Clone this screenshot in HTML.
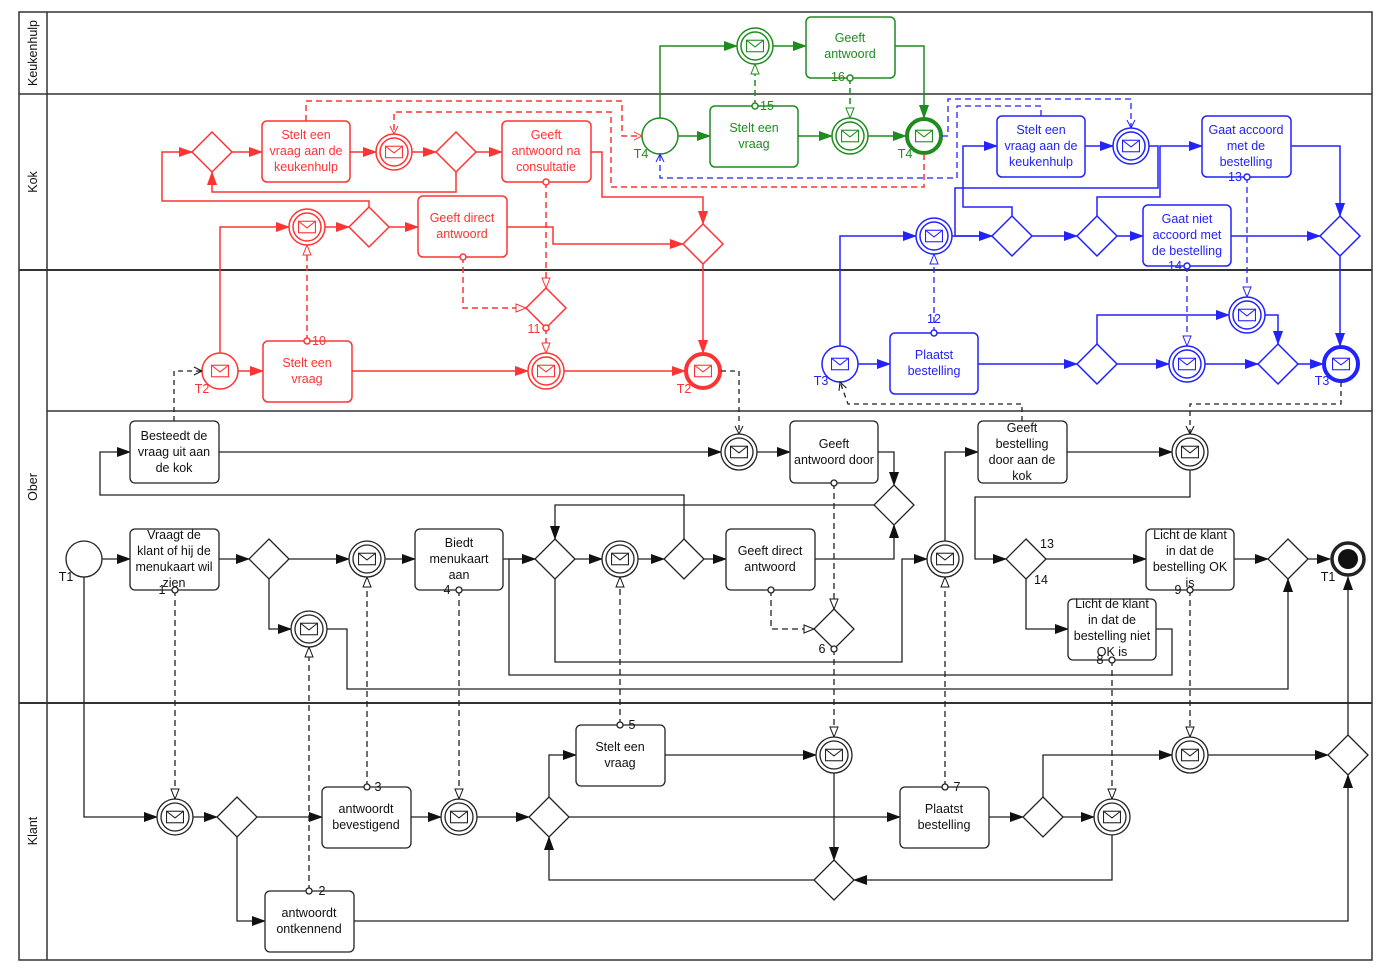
<!DOCTYPE html>
<html><head><meta charset="utf-8"><style>
html,body{margin:0;padding:0;background:#fff}
svg{display:block}
text{font-family:"Liberation Sans",sans-serif;font-size:12.5px}
</style></head><body>
<svg width="1387" height="970" viewBox="0 0 1387 970" xmlns="http://www.w3.org/2000/svg">
<defs>
<marker id="fk" markerWidth="14" markerHeight="10" refX="13" refY="5" orient="auto" markerUnits="userSpaceOnUse"><path d="M0,0 L14,5 L0,10z" fill="#111"/></marker>
<marker id="fr" markerWidth="14" markerHeight="10" refX="13" refY="5" orient="auto" markerUnits="userSpaceOnUse"><path d="M0,0 L14,5 L0,10z" fill="#f33"/></marker>
<marker id="fg" markerWidth="14" markerHeight="10" refX="13" refY="5" orient="auto" markerUnits="userSpaceOnUse"><path d="M0,0 L14,5 L0,10z" fill="#1e8c1e"/></marker>
<marker id="fu" markerWidth="14" markerHeight="10" refX="13" refY="5" orient="auto" markerUnits="userSpaceOnUse"><path d="M0,0 L14,5 L0,10z" fill="#22f"/></marker>
<marker id="hk" markerWidth="12" markerHeight="10" refX="11" refY="5" orient="auto" markerUnits="userSpaceOnUse"><path d="M1,1 L11,5 L1,9z" fill="#fff" stroke="#111"/></marker>
<marker id="hr" markerWidth="12" markerHeight="10" refX="11" refY="5" orient="auto" markerUnits="userSpaceOnUse"><path d="M1,1 L11,5 L1,9z" fill="#fff" stroke="#f33"/></marker>
<marker id="hg" markerWidth="12" markerHeight="10" refX="11" refY="5" orient="auto" markerUnits="userSpaceOnUse"><path d="M1,1 L11,5 L1,9z" fill="#fff" stroke="#1e8c1e"/></marker>
<marker id="hu" markerWidth="12" markerHeight="10" refX="11" refY="5" orient="auto" markerUnits="userSpaceOnUse"><path d="M1,1 L11,5 L1,9z" fill="#fff" stroke="#22f"/></marker>
<marker id="ok" markerWidth="10" markerHeight="10" refX="9" refY="5" orient="auto" markerUnits="userSpaceOnUse"><path d="M1,1 L9,5 L1,9" fill="none" stroke="#111"/></marker>
<marker id="or" markerWidth="10" markerHeight="10" refX="9" refY="5" orient="auto" markerUnits="userSpaceOnUse"><path d="M1,1 L9,5 L1,9" fill="none" stroke="#f33"/></marker>
<marker id="ou" markerWidth="10" markerHeight="10" refX="9" refY="5" orient="auto" markerUnits="userSpaceOnUse"><path d="M1,1 L9,5 L1,9" fill="none" stroke="#22f"/></marker>
<symbol id="env" viewBox="0 0 20 14"><rect x="0.6" y="0.6" width="18.8" height="12.8" fill="#fff" stroke="currentColor" stroke-width="1.2"/><path d="M0.6,0.6 L10,8 L19.4,0.6" fill="none" stroke="currentColor" stroke-width="1.2"/></symbol>
</defs>

<!-- pool & lanes -->
<g fill="none" stroke="#333" stroke-width="1.5">
<rect x="19" y="12" width="1353" height="948"/>
<line x1="47" y1="12" x2="47" y2="960"/>
<line x1="19" y1="94" x2="1372" y2="94"/>
<line x1="19" y1="270" x2="1372" y2="270" stroke-width="2"/>
<line x1="47" y1="411" x2="1372" y2="411"/>
<line x1="19" y1="703" x2="1372" y2="703" stroke-width="2"/>
</g>
<g fill="#111" text-anchor="middle">
<text transform="translate(37,53) rotate(-90)">Keukenhulp</text>
<text transform="translate(37,182) rotate(-90)">Kok</text>
<text transform="translate(37,487) rotate(-90)">Ober</text>
<text transform="translate(37,831) rotate(-90)">Klant</text>
</g>

<!-- ================= GREEN ================= -->
<g stroke="#1e8c1e" fill="none" stroke-width="1.5" color="#1e8c1e">
<path d="M660,118 L660,46 L737,46" marker-end="url(#fg)"/>
<path d="M773,46 L806,46" marker-end="url(#fg)"/>
<path d="M895,46 L924,46 L924,118" marker-end="url(#fg)"/>
<path d="M678,136 L710,136" marker-end="url(#fg)"/>
<path d="M798,136 L832,136" marker-end="url(#fg)"/>
<path d="M868,136 L906,136" marker-end="url(#fg)"/>
<path d="M755,106 L755,64" stroke-dasharray="6,4" marker-end="url(#hg)"/>
<path d="M850,78 L850,118" stroke-dasharray="6,4" marker-end="url(#hg)"/>
<rect x="806" y="17" width="89" height="61" rx="5" fill="#fff"/>
<rect x="710" y="106" width="88" height="61" rx="5" fill="#fff"/>
<circle cx="755" cy="46" r="18" fill="#fff"/><circle cx="755" cy="46" r="14"/>
<circle cx="850" cy="136" r="18" fill="#fff"/><circle cx="850" cy="136" r="14"/>
<circle cx="660" cy="136" r="18" fill="#fff"/>
<circle cx="924" cy="136" r="17" fill="#fff" stroke-width="4"/>
<circle cx="755" cy="106" r="3" fill="#fff"/><circle cx="850" cy="78" r="3" fill="#fff"/>
</g>
<g color="#1e8c1e"><use href="#env" x="746" y="39.5" width="18" height="13"/><use href="#env" x="841" y="129.5" width="18" height="13"/><use href="#env" x="915" y="129.5" width="18" height="13"/></g>
<g fill="#1e8c1e" text-anchor="middle">
<text x="850" y="42">Geeft</text><text x="850" y="58">antwoord</text>
<text x="754" y="132">Stelt een</text><text x="754" y="148">vraag</text>
<text x="767" y="110" font-size="12">15</text><text x="838" y="81" font-size="12">16</text>
<text x="641" y="158" font-size="12">T4</text><text x="905" y="158" font-size="12">T4</text>
</g>

<!-- ================= RED ================= -->
<g stroke="#f33" fill="none" stroke-width="1.5">
<path d="M369,207 L369,201 L162,201 L162,152 L192,152" marker-end="url(#fr)"/>
<path d="M232,152 L262,152" marker-end="url(#fr)"/>
<path d="M350,152 L376,152" marker-end="url(#fr)"/>
<path d="M412,152 L436,152" marker-end="url(#fr)"/>
<path d="M476,152 L502,152" marker-end="url(#fr)"/>
<path d="M456,172 L456,192 L212,192 L212,172" marker-end="url(#fr)"/>
<path d="M591,152 L602,152 L602,197 L703,197 L703,224" marker-end="url(#fr)"/>
<path d="M507,227 L553,227 L553,244 L683,244" marker-end="url(#fr)"/>
<path d="M325,227 L349,227" marker-end="url(#fr)"/>
<path d="M389,227 L418,227" marker-end="url(#fr)"/>
<path d="M703,264 L703,353" marker-end="url(#fr)"/>
<path d="M220,353 L220,227 L289,227" marker-end="url(#fr)"/>
<path d="M238,371 L263,371" marker-end="url(#fr)"/>
<path d="M352,371 L528,371" marker-end="url(#fr)"/>
<path d="M564,371 L685,371" marker-end="url(#fr)"/>
<g stroke-dasharray="6,4">
<path d="M306,121 L306,101 L622,101 L622,136 L642,136" marker-end="url(#or)"/>
<path d="M924,154 L924,187 L611,187 L611,112 L394,112 L394,134" marker-end="url(#or)"/>
<path d="M546,182 L546,288" marker-end="url(#hr)"/>
<path d="M463,257 L463,308 L526,308" marker-end="url(#hr)"/>
<path d="M546,328 L546,353" marker-end="url(#hr)"/>
<path d="M307,341 L307,245" marker-end="url(#hr)"/>
</g>
<g fill="#fff">
<polygon points="212,132 232,152 212,172 192,152"/>
<polygon points="456,132 476,152 456,172 436,152"/>
<polygon points="369,207 389,227 369,247 349,227"/>
<polygon points="703,224 723,244 703,264 683,244"/>
<polygon points="546,288 566,308 546,328 526,308"/>
<rect x="262" y="121" width="88" height="61" rx="5"/>
<rect x="502" y="121" width="89" height="61" rx="5"/>
<rect x="418" y="196" width="89" height="61" rx="5"/>
<rect x="263" y="341" width="89" height="61" rx="5"/>
<circle cx="394" cy="152" r="18"/><circle cx="307" cy="227" r="18"/><circle cx="546" cy="371" r="18"/>
<circle cx="220" cy="371" r="18"/>
<circle cx="703" cy="371" r="17" stroke-width="4"/>
<circle cx="546" cy="182" r="3"/><circle cx="463" cy="257" r="3"/><circle cx="307" cy="341" r="3"/><circle cx="546" cy="328" r="3"/>
</g>
<circle cx="394" cy="152" r="14"/><circle cx="307" cy="227" r="14"/><circle cx="546" cy="371" r="14"/>
</g>
<g color="#f33"><use href="#env" x="385" y="145.5" width="18" height="13"/><use href="#env" x="298" y="220.5" width="18" height="13"/><use href="#env" x="537" y="364.5" width="18" height="13"/><use href="#env" x="211" y="364.5" width="18" height="13"/><use href="#env" x="694" y="364.5" width="18" height="13"/></g>
<g fill="#f33" text-anchor="middle">
<text x="306" y="139">Stelt een</text><text x="306" y="155">vraag aan de</text><text x="306" y="171">keukenhulp</text>
<text x="546" y="139">Geeft</text><text x="546" y="155">antwoord na</text><text x="546" y="171">consultatie</text>
<text x="462" y="222">Geeft direct</text><text x="462" y="238">antwoord</text>
<text x="307" y="367">Stelt een</text><text x="307" y="383">vraag</text>
<text x="319" y="345" font-size="12">10</text><text x="534" y="333" font-size="12">11</text>
<text x="202" y="393" font-size="12">T2</text><text x="684" y="393" font-size="12">T2</text>
</g>

<!-- ================= BLUE ================= -->
<g stroke="#22f" fill="none" stroke-width="1.5">
<path d="M840,346 L840,236 L916,236" marker-end="url(#fu)"/>
<path d="M952,236 L992,236" marker-end="url(#fu)"/>
<path d="M1149,146 L1158,146 L1158,188 L955,188 L955,236 L992,236" marker-end="url(#fu)"/>
<path d="M1012,216 L1012,207 L963,207 L963,146 L997,146" marker-end="url(#fu)"/>
<path d="M1085,146 L1113,146" marker-end="url(#fu)"/>
<path d="M1032,236 L1077,236" marker-end="url(#fu)"/>
<path d="M1097,216 L1097,197 L1160,197 L1160,146 L1202,146" marker-end="url(#fu)"/>
<path d="M1117,236 L1143,236" marker-end="url(#fu)"/>
<path d="M1231,236 L1320,236" marker-end="url(#fu)"/>
<path d="M1291,146 L1340,146 L1340,216" marker-end="url(#fu)"/>
<path d="M1340,256 L1340,346" marker-end="url(#fu)"/>
<path d="M858,364 L890,364" marker-end="url(#fu)"/>
<path d="M978,364 L1077,364" marker-end="url(#fu)"/>
<path d="M1117,364 L1169,364" marker-end="url(#fu)"/>
<path d="M1205,364 L1258,364" marker-end="url(#fu)"/>
<path d="M1298,364 L1323,364" marker-end="url(#fu)"/>
<path d="M1097,344 L1097,315 L1229,315" marker-end="url(#fu)"/>
<path d="M1265,315 L1278,315 L1278,344" marker-end="url(#fu)"/>
<g stroke-dasharray="6,4" stroke-width="1.3">
<path d="M942,136 L948,136 L948,99 L1131,99 L1131,128" marker-end="url(#ou)"/>
<path d="M1041,116 L1041,106 L957,106 L957,178 L660,178 L660,154" marker-end="url(#ou)"/>
<path d="M934,333 L934,254" marker-end="url(#hu)"/>
<path d="M1247,177 L1247,297" marker-end="url(#hu)"/>
<path d="M1187,266 L1187,346" marker-end="url(#hu)"/>
</g>
<g fill="#fff">
<polygon points="1012,216 1032,236 1012,256 992,236"/>
<polygon points="1097,216 1117,236 1097,256 1077,236"/>
<polygon points="1340,216 1360,236 1340,256 1320,236"/>
<polygon points="1097,344 1117,364 1097,384 1077,364"/>
<polygon points="1278,344 1298,364 1278,384 1258,364"/>
<rect x="997" y="116" width="88" height="61" rx="5"/>
<rect x="1202" y="116" width="89" height="61" rx="5"/>
<rect x="1143" y="205" width="88" height="61" rx="5"/>
<rect x="890" y="333" width="88" height="61" rx="5"/>
<circle cx="1131" cy="146" r="18"/><circle cx="934" cy="236" r="18"/><circle cx="1187" cy="364" r="18"/><circle cx="1247" cy="315" r="18"/>
<circle cx="840" cy="364" r="18"/>
<circle cx="1341" cy="364" r="17" stroke-width="4"/>
<circle cx="934" cy="333" r="3"/><circle cx="1247" cy="177" r="3"/><circle cx="1187" cy="266" r="3"/>
</g>
<circle cx="1131" cy="146" r="14"/><circle cx="934" cy="236" r="14"/><circle cx="1187" cy="364" r="14"/><circle cx="1247" cy="315" r="14"/>
</g>
<g color="#22f"><use href="#env" x="1122" y="139.5" width="18" height="13"/><use href="#env" x="925" y="229.5" width="18" height="13"/><use href="#env" x="1178" y="357.5" width="18" height="13"/><use href="#env" x="1238" y="308.5" width="18" height="13"/><use href="#env" x="831" y="357.5" width="18" height="13"/><use href="#env" x="1332" y="357.5" width="18" height="13"/></g>
<g fill="#22f" text-anchor="middle">
<text x="1041" y="134">Stelt een</text><text x="1041" y="150">vraag aan de</text><text x="1041" y="166">keukenhulp</text>
<text x="1246" y="134">Gaat accoord</text><text x="1246" y="150">met de</text><text x="1246" y="166">bestelling</text>
<text x="1187" y="223">Gaat niet</text><text x="1187" y="239">accoord met</text><text x="1187" y="255">de bestelling</text>
<text x="934" y="359">Plaatst</text><text x="934" y="375">bestelling</text>
<text x="934" y="323" font-size="12">12</text><text x="1235" y="181" font-size="12">13</text><text x="1175" y="270" font-size="12">14</text>
<text x="821" y="385" font-size="12">T3</text><text x="1322" y="385" font-size="12">T3</text>
</g>

<!-- ================= BLACK (Ober & Klant) ================= -->
<g stroke="#222" fill="none" stroke-width="1.3">
<!-- dashed cross-lane black -->
<g stroke-dasharray="5,4">
<path d="M174,421 L174,371 L202,371" marker-end="url(#ok)"/>
<path d="M721,371 L739,371 L739,434" marker-end="url(#ok)"/>
<path d="M1022,421 L1022,404 L848,404 L840,382" marker-end="url(#ok)"/>
<path d="M1341,382 L1341,404 L1190,404 L1190,434" marker-end="url(#ok)"/>
</g>
<!-- Ober flows -->
<path d="M219,452 L721,452" marker-end="url(#fk)"/>
<path d="M757,452 L790,452" marker-end="url(#fk)"/>
<path d="M878,452 L894,452 L894,485" marker-end="url(#fk)"/>
<path d="M684,539 L684,495 L100,495 L100,452 L130,452" marker-end="url(#fk)"/>
<path d="M874,505 L555,505 L555,539" marker-end="url(#fk)"/>
<path d="M102,559 L130,559" marker-end="url(#fk)"/>
<path d="M219,559 L249,559" marker-end="url(#fk)"/>
<path d="M289,559 L349,559" marker-end="url(#fk)"/>
<path d="M385,559 L415,559" marker-end="url(#fk)"/>
<path d="M503,559 L535,559" marker-end="url(#fk)"/>
<path d="M575,559 L602,559" marker-end="url(#fk)"/>
<path d="M638,559 L664,559" marker-end="url(#fk)"/>
<path d="M704,559 L726,559" marker-end="url(#fk)"/>
<path d="M815,559 L894,559 L894,525" marker-end="url(#fk)"/>
<path d="M269,579 L269,629 L291,629" marker-end="url(#fk)"/>
<path d="M327,629 L347,629 L347,689 L1288,689 L1288,579" marker-end="url(#fk)"/>
<path d="M555,579 L555,662 L902,662 L902,559 L927,559" marker-end="url(#fk)"/>
<path d="M1156,629 L1172,629 L1172,675 L509,675 L509,559 L535,559" marker-end="url(#fk)"/>
<path d="M945,541 L945,452 L978,452" marker-end="url(#fk)"/>
<path d="M1067,452 L1172,452" marker-end="url(#fk)"/>
<path d="M1190,470 L1190,497 L975,497 L975,559 L1006,559" marker-end="url(#fk)"/>
<path d="M1046,559 L1146,559" marker-end="url(#fk)"/>
<path d="M1026,579 L1026,629 L1068,629" marker-end="url(#fk)"/>
<path d="M1234,559 L1268,559" marker-end="url(#fk)"/>
<path d="M1308,559 L1330,559" marker-end="url(#fk)"/>
<!-- Klant flows -->
<path d="M84,577 L84,817 L157,817" marker-end="url(#fk)"/>
<path d="M193,817 L217,817" marker-end="url(#fk)"/>
<path d="M257,817 L322,817" marker-end="url(#fk)"/>
<path d="M411,817 L441,817" marker-end="url(#fk)"/>
<path d="M477,817 L529,817" marker-end="url(#fk)"/>
<path d="M569,817 L900,817" marker-end="url(#fk)"/>
<path d="M549,797 L549,755 L576,755" marker-end="url(#fk)"/>
<path d="M665,755 L816,755" marker-end="url(#fk)"/>
<path d="M834,773 L834,860" marker-end="url(#fk)"/>
<path d="M814,880 L549,880 L549,837" marker-end="url(#fk)"/>
<path d="M989,817 L1023,817" marker-end="url(#fk)"/>
<path d="M1063,817 L1094,817" marker-end="url(#fk)"/>
<path d="M1043,797 L1043,755 L1172,755" marker-end="url(#fk)"/>
<path d="M1208,755 L1328,755" marker-end="url(#fk)"/>
<path d="M1112,835 L1112,880 L854,880" marker-end="url(#fk)"/>
<path d="M237,837 L237,921 L265,921" marker-end="url(#fk)"/>
<path d="M354,921 L1348,921 L1348,775" marker-end="url(#fk)"/>
<path d="M1348,735 L1348,577" marker-end="url(#fk)"/>
<!-- message flows dashed -->
<g stroke-dasharray="6,4">
<path d="M771,590 L771,629 L814,629" marker-end="url(#hk)"/>
<path d="M834,483 L834,609" marker-end="url(#hk)"/>
<path d="M175,590 L175,799" marker-end="url(#hk)"/>
<path d="M309,891 L309,647" marker-end="url(#hk)"/>
<path d="M367,787 L367,577" marker-end="url(#hk)"/>
<path d="M459,590 L459,799" marker-end="url(#hk)"/>
<path d="M620,725 L620,577" marker-end="url(#hk)"/>
<path d="M834,649 L834,737" marker-end="url(#hk)"/>
<path d="M945,787 L945,577" marker-end="url(#hk)"/>
<path d="M1112,660 L1112,799" marker-end="url(#hk)"/>
<path d="M1190,590 L1190,737" marker-end="url(#hk)"/>
</g>
<g fill="#fff">
<polygon points="894,485 914,505 894,525 874,505"/>
<polygon points="269,539 289,559 269,579 249,559"/>
<polygon points="555,539 575,559 555,579 535,559"/>
<polygon points="684,539 704,559 684,579 664,559"/>
<polygon points="1026,539 1046,559 1026,579 1006,559"/>
<polygon points="1288,539 1308,559 1288,579 1268,559"/>
<polygon points="834,609 854,629 834,649 814,629"/>
<polygon points="237,797 257,817 237,837 217,817"/>
<polygon points="549,797 569,817 549,837 529,817"/>
<polygon points="1043,797 1063,817 1043,837 1023,817"/>
<polygon points="1348,735 1368,755 1348,775 1328,755"/>
<polygon points="834,860 854,880 834,900 814,880"/>
<rect x="130" y="421" width="89" height="62" rx="5"/>
<rect x="790" y="421" width="88" height="62" rx="5"/>
<rect x="978" y="421" width="89" height="62" rx="5"/>
<rect x="130" y="529" width="89" height="61" rx="5"/>
<rect x="415" y="529" width="88" height="61" rx="5"/>
<rect x="726" y="529" width="89" height="61" rx="5"/>
<rect x="1146" y="529" width="88" height="61" rx="5"/>
<rect x="1068" y="599" width="88" height="61" rx="5"/>
<rect x="322" y="787" width="89" height="61" rx="5"/>
<rect x="576" y="725" width="89" height="61" rx="5"/>
<rect x="900" y="787" width="89" height="61" rx="5"/>
<rect x="265" y="891" width="89" height="61" rx="5"/>
<circle cx="84" cy="559" r="18"/>
<circle cx="739" cy="452" r="18"/><circle cx="1190" cy="452" r="18"/><circle cx="367" cy="559" r="18"/><circle cx="620" cy="559" r="18"/><circle cx="945" cy="559" r="18"/><circle cx="309" cy="629" r="18"/>
<circle cx="175" cy="817" r="18"/><circle cx="459" cy="817" r="18"/><circle cx="834" cy="755" r="18"/><circle cx="1112" cy="817" r="18"/><circle cx="1190" cy="755" r="18"/>
<circle cx="175" cy="590" r="3"/><circle cx="459" cy="590" r="3"/><circle cx="771" cy="590" r="3"/><circle cx="834" cy="483" r="3"/><circle cx="834" cy="649" r="3"/><circle cx="1112" cy="660" r="3"/><circle cx="1190" cy="590" r="3"/>
<circle cx="309" cy="891" r="3"/><circle cx="367" cy="787" r="3"/><circle cx="620" cy="725" r="3"/><circle cx="945" cy="787" r="3"/>
</g>
<circle cx="739" cy="452" r="14"/><circle cx="1190" cy="452" r="14"/><circle cx="367" cy="559" r="14"/><circle cx="620" cy="559" r="14"/><circle cx="945" cy="559" r="14"/><circle cx="309" cy="629" r="14"/>
<circle cx="175" cy="817" r="14"/><circle cx="459" cy="817" r="14"/><circle cx="834" cy="755" r="14"/><circle cx="1112" cy="817" r="14"/><circle cx="1190" cy="755" r="14"/>
<circle cx="1348" cy="559" r="16" fill="#fff" stroke-width="3.5"/>
<circle cx="1348" cy="559" r="10" fill="#111" stroke="none"/>
</g>
<g color="#222">
<use href="#env" x="730" y="445.5" width="18" height="13"/><use href="#env" x="1181" y="445.5" width="18" height="13"/><use href="#env" x="358" y="552.5" width="18" height="13"/><use href="#env" x="611" y="552.5" width="18" height="13"/><use href="#env" x="936" y="552.5" width="18" height="13"/><use href="#env" x="300" y="622.5" width="18" height="13"/>
<use href="#env" x="166" y="810.5" width="18" height="13"/><use href="#env" x="450" y="810.5" width="18" height="13"/><use href="#env" x="825" y="748.5" width="18" height="13"/><use href="#env" x="1103" y="810.5" width="18" height="13"/><use href="#env" x="1181" y="748.5" width="18" height="13"/>
</g>
<g fill="#111" text-anchor="middle">
<text x="174" y="440">Besteedt de</text><text x="174" y="456">vraag uit aan</text><text x="174" y="472">de kok</text>
<text x="834" y="448">Geeft</text><text x="834" y="464">antwoord door</text>
<text x="1022" y="432">Geeft</text><text x="1022" y="448">bestelling</text><text x="1022" y="464">door aan de</text><text x="1022" y="480">kok</text>
<text x="174" y="539">Vraagt de</text><text x="174" y="555">klant of hij de</text><text x="174" y="571">menukaart wil</text><text x="174" y="587">zien</text>
<text x="459" y="547">Biedt</text><text x="459" y="563">menukaart</text><text x="459" y="579">aan</text>
<text x="770" y="555">Geeft direct</text><text x="770" y="571">antwoord</text>
<text x="1190" y="539">Licht de klant</text><text x="1190" y="555">in dat de</text><text x="1190" y="571">bestelling OK</text><text x="1190" y="587">is</text>
<text x="1112" y="608">Licht de klant</text><text x="1112" y="624">in dat de</text><text x="1112" y="640">bestelling niet</text><text x="1112" y="656">OK is</text>
<text x="366" y="813">antwoordt</text><text x="366" y="829">bevestigend</text>
<text x="620" y="751">Stelt een</text><text x="620" y="767">vraag</text>
<text x="944" y="813">Plaatst</text><text x="944" y="829">bestelling</text>
<text x="309" y="917">antwoordt</text><text x="309" y="933">ontkennend</text>
<g font-size="12">
<text x="66" y="581">T1</text><text x="1328" y="581">T1</text>
<text x="162" y="594">1</text><text x="447" y="594">4</text><text x="822" y="653">6</text><text x="1100" y="664">8</text><text x="1178" y="594">9</text>
<text x="1047" y="548">13</text><text x="1041" y="584">14</text>
<text x="322" y="895">2</text><text x="378" y="791">3</text><text x="632" y="729">5</text><text x="957" y="791">7</text>
</g>
</g>
</svg>
</body></html>
